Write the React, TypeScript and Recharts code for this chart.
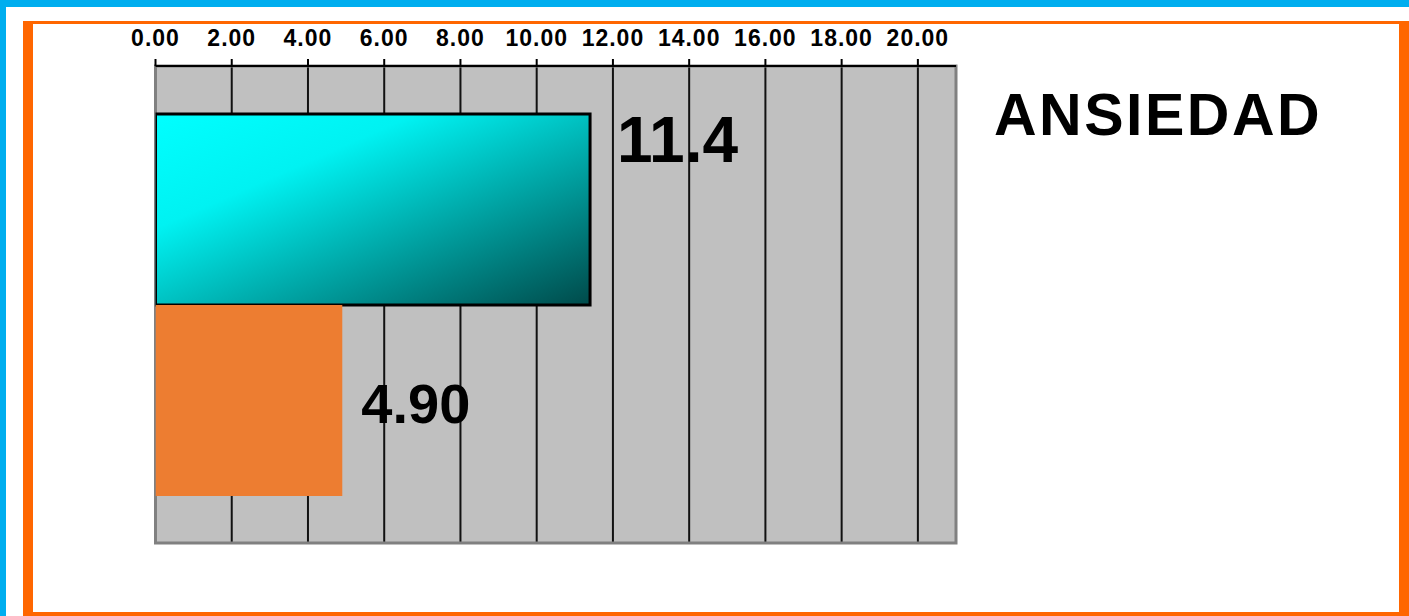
import { BarChart, Bar, XAxis, YAxis, CartesianGrid, ReferenceArea, LabelList } from 'recharts';

// valores
const categories = ['ANSIEDAD'];
const seriesA = [11.4];
const seriesB = [4.9];
const xTicks = [0, 2, 4, 6, 8, 10, 12, 14, 16, 18, 20];
const xMax = 21;

const data = categories.map((name, i) => ({ name, a: seriesA[i], b: seriesB[i] }));

const FONT = '"Liberation Sans", Arial, Helvetica, sans-serif';

// etiqueta de valor a la derecha de cada barra
const makeLabel = (dx: number, dy: number, size: number, weight: number) => (props: any) => {
  const { x, y, width, height, value } = props;
  return (
    <text
      x={x + width + dx}
      y={y + height / 2 + dy}
      fontFamily={FONT}
      fontSize={size}
      fontWeight={weight}
      fill="#000"
    >
      {Number(value).toPrecision(3)}
    </text>
  );
};

export default function App() {
  return (
    <div style={{ position: 'absolute', left: 0, top: 0, width: 1409, height: 616, background: '#00AEEF', overflow: 'hidden' }}>
      <div style={{ position: 'absolute', left: 6, top: 7, right: 0, bottom: 0, background: '#fff' }} />
      <div
        style={{
          position: 'absolute',
          left: 23,
          top: 21,
          width: 1409 - 23,
          height: 616 - 21,
          boxSizing: 'border-box',
          borderLeft: '10px solid #FF6600',
          borderTop: '3px solid #FF6600',
          borderRight: '10px solid #FF6600',
          borderBottom: '4px solid #FF6600',
        }}
      />
      <div style={{ position: 'absolute', left: 0, top: 0 }}>
        <BarChart
          width={1409}
          height={616}
          data={data}
          layout="vertical"
          margin={{ top: 36, right: 453, bottom: 73, left: 155.5 }}
          barCategoryGap={48}
          barGap={0}
        >
          <defs>
            <linearGradient id="cyanGrad" x1="0" y1="0" x2="1" y2="1">
              <stop offset="0%" stopColor="#00FFFF" />
              <stop offset="30%" stopColor="#00F2F2" />
              <stop offset="100%" stopColor="#004A4A" />
            </linearGradient>
          </defs>
          <CartesianGrid fill="#C0C0C0" fillOpacity={1} horizontal={false} stroke="#111" strokeWidth={2} />
          <ReferenceArea x1={0} x2={xMax} fill="none" stroke="#808080" strokeWidth={3} ifOverflow="visible" />
          <XAxis
            type="number"
            orientation="top"
            domain={[0, xMax]}
            ticks={xTicks}
            interval={0}
            height={30}
            tickSize={7}
            tickMargin={13}
            tickFormatter={(v: number) => v.toFixed(2)}
            tick={{ fontFamily: FONT, fontSize: 23, fontWeight: 700, fill: '#000', letterSpacing: 1 }}
            tickLine={{ stroke: '#000', strokeWidth: 2 }}
            axisLine={{ stroke: '#000', strokeWidth: 2 }}
            allowDataOverflow
          />
          <YAxis type="category" dataKey="name" hide />
          <Bar dataKey="a" fill="url(#cyanGrad)" stroke="#000" strokeWidth={3} isAnimationActive={false}>
            <LabelList dataKey="a" content={makeLabel(27, -48, 64, 700)} />
          </Bar>
          <Bar dataKey="b" fill="#ED7D31" isAnimationActive={false}>
            <LabelList dataKey="b" content={makeLabel(19, 22, 56, 700)} />
          </Bar>
        </BarChart>
      </div>
      <svg width={1409} height={616} style={{ position: 'absolute', left: 0, top: 0, pointerEvents: 'none' }}>
        <text x={994} y={135} fontFamily={FONT} fontSize={59} fontWeight={700} letterSpacing={2.5} fill="#000">
          {categories[0]}
        </text>
      </svg>
    </div>
  );
}
